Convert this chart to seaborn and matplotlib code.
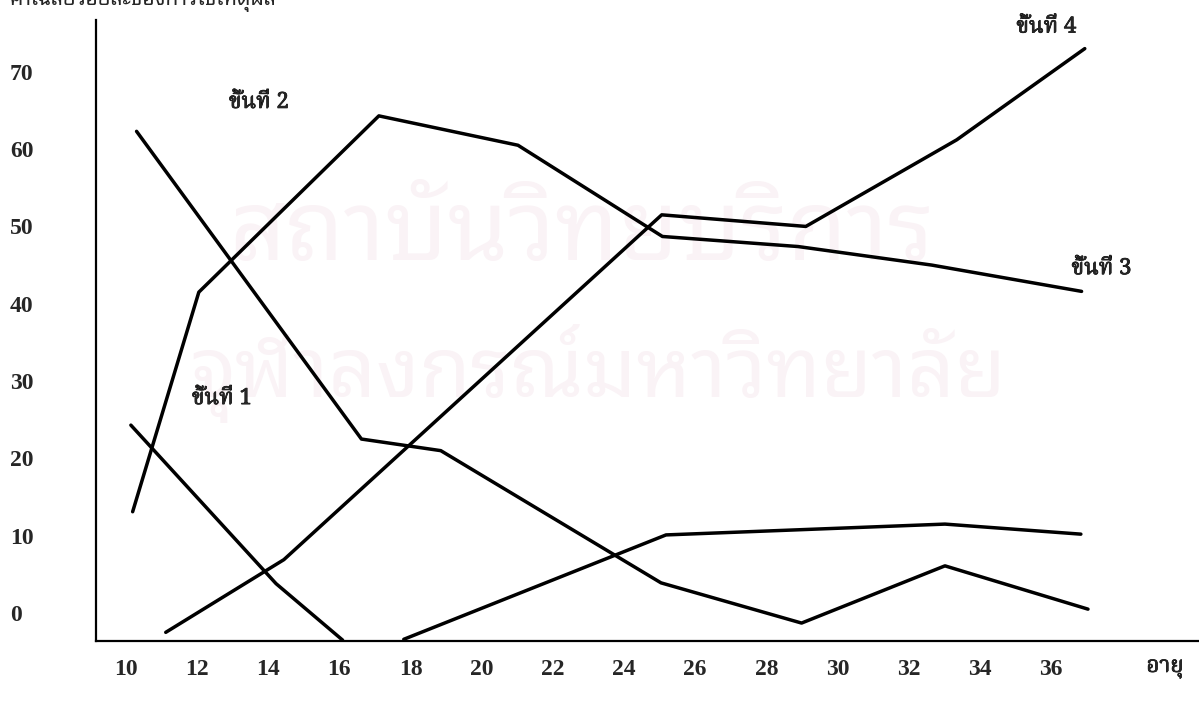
import matplotlib
matplotlib.use("Agg")
import matplotlib.pyplot as plt
import matplotlib.patheffects as pe
import numpy as np
import pandas as pd
import seaborn as sns
from matplotlib import font_manager as fm
from matplotlib.ft2font import FT2Font

# ---------------- data ----------------
x_ticks = [10, 12, 14, 16, 18, 20, 22, 24, 26, 28, 30, 32, 34, 36]
y_ticks = [0, 10, 20, 30, 40, 50, 60, 70]

stage1a_age = [10.14, 14.22, 16.09]
stage1a_pct = [24.3, 3.8, -3.5]
stage1b_age = [17.81, 25.18, 33.02, 36.84]
stage1b_pct = [-3.4, 10.1, 11.5, 10.2]
stage2_age = [10.30, 16.62, 18.85, 25.04, 28.99, 33.02, 37.04]
stage2_pct = [62.3, 22.5, 21.0, 3.9, -1.3, 6.1, 0.5]
stage3_age = [10.19, 12.05, 17.11, 21.02, 25.08, 28.89, 32.65, 36.86]
stage3_pct = [13.1, 41.5, 64.3, 60.5, 48.7, 47.4, 45.0, 41.6]
stage4_age = [11.12, 14.44, 25.06, 29.11, 33.35, 36.95]
stage4_pct = [-2.5, 6.9, 51.5, 50.0, 61.2, 73.0]

stage_labels = ["ขั้นที่ 1", "ขั้นที่ 2", "ขั้นที่ 3", "ขั้นที่ 4"]
label_age = [12.7, 13.74, 37.42, 35.87]
label_pct = [27.8, 66.1, 44.6, 75.85]

title_text = "ค่าเฉลี่ยร้อยละของการใช้เหตุผล"
xlabel_text = "อายุ"
watermark_lines = ["สถาบันวิทยบริการ", "จุฬาลงกรณ์มหาวิทยาลัย"]

# ---------------- fonts ----------------
def thai_families():
    fams = {}
    for f in fm.fontManager.ttflist:
        try:
            cm = FT2Font(f.fname).get_charmap()
        except Exception:
            continue
        if 0x0E02 in cm and 0x0E34 in cm and 0x0E19 in cm:
            fams.setdefault(f.name, []).append(f)
    return fams

fams = thai_families()
names = list(fams.keys())
def pick(pref_words):
    for w in pref_words:
        for n in names:
            if w.lower() in n.lower():
                return n
    return names[0] if names else "DejaVu Sans"

thai_serif = pick(["Noto Serif Thai", "Serif Thai", "Norasi", "FreeSerif", "Kinnari", "Serif", "Thai"])
thai_sans = pick(["Noto Sans Thai", "Loma", "Garuda", "Tahoma", "Sans Thai", "FreeSans", "Sans", "Thai"])

sns.set_style("white")
plt.rcParams["font.family"] = ["Liberation Serif", "DejaVu Sans"]

# ---------------- data frame ----------------
rows = []
for seg, (a, p) in {
    "s1a": (stage1a_age, stage1a_pct),
    "s1b": (stage1b_age, stage1b_pct),
    "s2": (stage2_age, stage2_pct),
    "s3": (stage3_age, stage3_pct),
    "s4": (stage4_age, stage4_pct),
}.items():
    for x, y in zip(a, p):
        rows.append({"age": x, "pct": y, "segment": seg})
df = pd.DataFrame(rows)

# ---------------- figure ----------------
fig = plt.figure(figsize=(11.99, 7.04), dpi=100)
ax = fig.add_axes([96 / 1199, 63 / 704, 1 - 96 / 1199, (641 - 20) / 704])
ax.set_facecolor("none")

sns.lineplot(data=df, x="age", y="pct", units="segment", estimator=None,
             sort=False, color="black", linewidth=2.5, ax=ax, zorder=3)

ax.set_xlim(9.16, 40.16)
ax.set_ylim(-3.62, 76.7)
ax.set_xticks(x_ticks)
ax.set_yticks(y_ticks)
ax.set_xticklabels([str(v) for v in x_ticks], fontsize=17, fontweight="bold",
                   family=["Liberation Serif"])
ax.set_yticklabels([str(v) for v in y_ticks], fontsize=17, fontweight="bold",
                   family=["Liberation Serif"], ha="left")
ax.tick_params(axis="y", length=0, pad=62)
ax.tick_params(axis="x", length=0, pad=13)
ax.set_xlabel("")
ax.set_ylabel("")
for s in ["top", "right"]:
    ax.spines[s].set_visible(False)
for s in ["left", "bottom"]:
    ax.spines[s].set_color("black")
    ax.spines[s].set_linewidth(1.6)

# watermark (very faint)
wm_color = "#faf3f6"
ax.text(0.44, 0.655, watermark_lines[0], transform=ax.transAxes, ha="center",
        va="center", fontsize=70, color=wm_color, family=[thai_sans, "DejaVu Sans"], zorder=0)
ax.text(0.455, 0.43, watermark_lines[1], transform=ax.transAxes, ha="center",
        va="center", fontsize=60, color=wm_color, family=[thai_sans, "DejaVu Sans"], zorder=0)

bold_fx = [pe.withStroke(linewidth=0.5, foreground="black")]

# stage labels
for t, x, y in zip(stage_labels, label_age, label_pct):
    ax.text(x, y, t, ha="center", va="center", fontsize=16, fontweight="bold",
            family=[thai_serif, "Liberation Serif"], clip_on=False, zorder=4,
            path_effects=bold_fx)

# x axis name
fig.text(1165 / 1199, 1 - 668 / 704, xlabel_text, ha="center", va="center",
         fontsize=16, fontweight="bold", family=[thai_serif, "Liberation Serif"],
         path_effects=bold_fx)

# title (cut at the top of the picture)
fig.text(10 / 1199, 1 - 5 / 704, title_text, ha="left", va="baseline",
         fontsize=15, fontweight="bold", family=[thai_sans, "DejaVu Sans"])

fig.savefig("out.png", dpi=100)
